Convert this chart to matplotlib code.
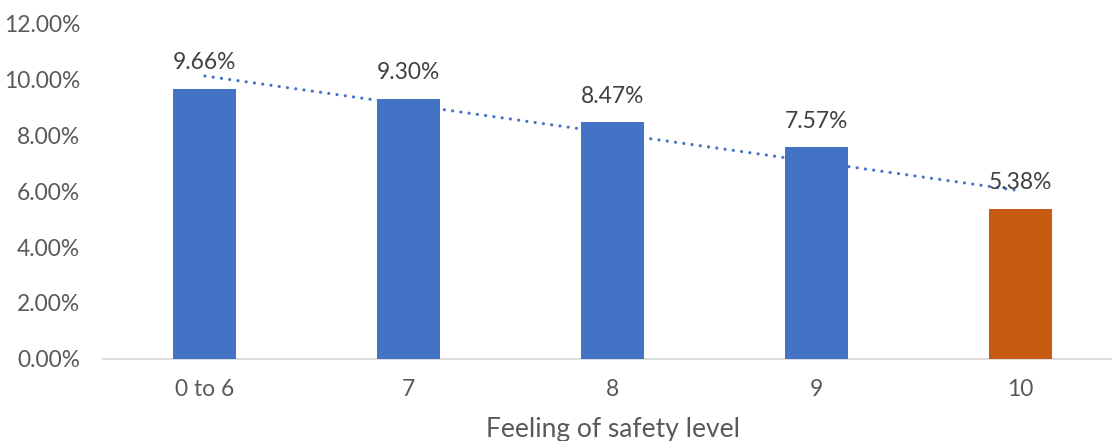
import matplotlib
matplotlib.use("Agg")
import matplotlib.pyplot as plt
import numpy as np
from matplotlib.ticker import FuncFormatter

categories = ["0 to 6", "7", "8", "9", "10"]
values = [9.66, 9.30, 8.47, 7.57, 5.38]
bar_colors = ["#4472C4", "#4472C4", "#4472C4", "#4472C4", "#C55A11"]
x_label = "Feeling of safety level"
y_ticks = [0, 2, 4, 6, 8, 10, 12]

plt.rcParams['font.family'] = ['Lato', 'DejaVu Sans']

W, H = 1112, 441
fig = plt.figure(figsize=(W / 100, H / 100), dpi=100)
left, right, top, bottom = 103, 1122, 24, 358.5
ax = fig.add_axes([left / W, (H - bottom) / H, (right - left) / W, (bottom - top) / H])

x = np.arange(len(categories))
ax.bar(x, values, width=0.31, color=bar_colors, zorder=3)

# linear trendline
coef = np.polyfit(x, values, 1)
tx = np.array([x[0], x[-1]])
ax.plot(tx, np.polyval(coef, tx), color="#4472C4", linewidth=2.3,
        linestyle=(0, (0.01, 2.6)), dash_capstyle='round', zorder=2)

for xi, v in zip(x, values):
    ax.annotate(f"{v:.2f}%", (xi, v), xytext=(0, 19), textcoords='offset points',
                ha='center', va='center', fontsize=16.4, color="#404040", zorder=4)

ax.set_xlim(-0.5, len(categories) - 0.5)
ax.set_ylim(0, 12)
ax.set_yticks(y_ticks)
ax.yaxis.set_major_formatter(FuncFormatter(lambda v, p: f"{v:.2f}%"))
ax.set_xticks(x)
ax.set_xticklabels(categories)
ax.tick_params(axis='both', length=0, labelsize=16.4, labelcolor="#595959")
ax.tick_params(axis='x', pad=15)
ax.tick_params(axis='y', pad=16.5)
for s in ['top', 'right', 'left']:
    ax.spines[s].set_visible(False)
ax.spines['bottom'].set_color("#D9D9D9")
ax.spines['bottom'].set_linewidth(1.3)
ax.set_xlabel(x_label, fontsize=19, color="#595959", labelpad=12)
for lbl in ax.get_yticklabels():
    lbl.set_horizontalalignment('right')

fig.savefig("out.png", dpi=100)
